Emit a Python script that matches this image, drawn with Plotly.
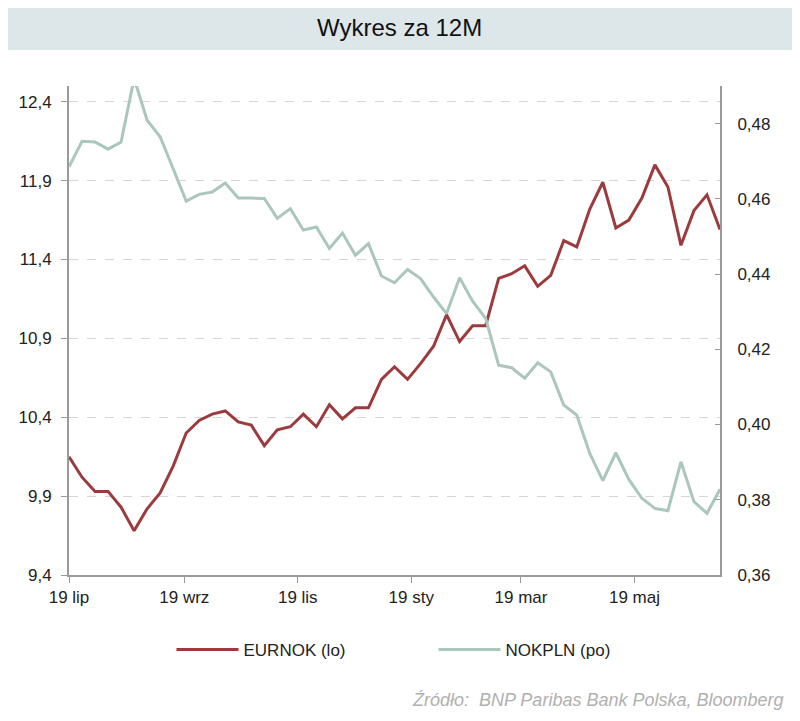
import pandas as pd
import plotly.graph_objects as go

dates = pd.date_range("2022-07-19", periods=51, freq="7D")

eurnok = [10.15, 10.02, 9.93, 9.93, 9.83, 9.68, 9.82, 9.92, 10.09, 10.30,
          10.38, 10.42, 10.44, 10.37, 10.35, 10.22, 10.32, 10.34, 10.42, 10.34,
          10.48, 10.39, 10.46, 10.46, 10.64, 10.72, 10.64, 10.74, 10.85, 11.05,
          10.88, 10.98, 10.98, 11.28, 11.31, 11.36, 11.23, 11.30, 11.52, 11.48,
          11.72, 11.89, 11.60, 11.65, 11.79, 12.00, 11.86, 11.49, 11.71, 11.81,
          11.59]

nokpln = [0.4685, 0.4753, 0.4751, 0.4732, 0.4751, 0.4920, 0.4809, 0.4765, 0.4680, 0.4594,
          0.4612, 0.4618, 0.4642, 0.4602, 0.4602, 0.4601, 0.4548, 0.4574, 0.4517, 0.4525,
          0.4468, 0.4509, 0.4450, 0.4481, 0.4395, 0.4377, 0.4412, 0.4388, 0.4339, 0.4295,
          0.4390, 0.4328, 0.4282, 0.4158, 0.4151, 0.4123, 0.4164, 0.4140, 0.4052, 0.4025,
          0.3923, 0.3851, 0.3925, 0.3854, 0.3804, 0.3777, 0.3771, 0.3901, 0.3795, 0.3764,
          0.3828]

tick_dates = ["2022-07-19", "2022-09-19", "2022-11-19", "2023-01-19", "2023-03-19", "2023-05-19"]
tick_labels = ["19 lip", "19 wrz", "19 lis", "19 sty", "19 mar", "19 maj"]
left_ticks = [9.4, 9.9, 10.4, 10.9, 11.4, 11.9, 12.4]
right_ticks = [0.36, 0.38, 0.40, 0.42, 0.44, 0.46, 0.48]

RED = "#9c3b3e"
GREEN = "#aac6bd"
FONT = "Liberation Sans"
TXT = "#222222"

fig = go.Figure()
fig.add_trace(go.Scatter(x=dates, y=eurnok, name="EURNOK (lo)", mode="lines",
                         line=dict(color=RED, width=3), yaxis="y"))
fig.add_trace(go.Scatter(x=dates, y=nokpln, name="NOKPLN (po)", mode="lines",
                         line=dict(color=GREEN, width=3), yaxis="y2"))

# page has an 8px body margin; work in page coordinates and shift
OFF = 8
W, H = 800 - OFF, 721 - OFF
L, T = 69 - OFF, 86 - OFF
R = W - (720 - OFF)
B = H - (575 - OFF)
pw, ph = W - L - R, H - T - B

def px(x):
    return (x - OFF - L) / pw

def py(y):
    return (H - B - (y - OFF)) / ph

fig.update_layout(
    width=W, height=H,
    margin=dict(l=L, r=R, t=T, b=B),
    paper_bgcolor="white", plot_bgcolor="white",
    separators=", ",
    font=dict(family=FONT, size=17, color=TXT),
    showlegend=True,
    legend=dict(orientation="h", x=px(178) - 0.01, xanchor="left", y=py(650), yanchor="middle",
                font=dict(size=17, color=TXT), itemwidth=62, entrywidth=185,
                traceorder="normal"),
    xaxis=dict(type="date", range=[dates[0], dates[-1]],
               tickvals=tick_dates, ticktext=tick_labels,
               showgrid=False, showline=True, linecolor="#9a9a9a", linewidth=2,
               ticks="outside", ticklen=6, tickcolor="#9a9a9a", zeroline=False,
               tickfont=dict(size=17, color=TXT)),
    yaxis=dict(range=[9.4, 12.5], tickvals=left_ticks, tickformat=".1f",
               showgrid=True, gridcolor="#d6d6d6", griddash="dash", gridwidth=1,
               showline=True, linecolor="#9a9a9a", linewidth=2,
               ticks="outside", ticklen=6, tickcolor="#9a9a9a", zeroline=False,
               ticklabelstandoff=6,
               tickfont=dict(size=17, color=TXT)),
    yaxis2=dict(range=[0.36, 0.49], tickvals=right_ticks, tickformat=".2f",
                overlaying="y", side="right", showgrid=False,
                showline=True, linecolor="#9a9a9a", linewidth=2,
                ticks="inside", ticklen=5, tickcolor="#9a9a9a", zeroline=False,
                ticklabelstandoff=12,
                tickfont=dict(size=17, color=TXT)),
)

fig.add_shape(type="rect", xref="paper", yref="paper",
              x0=px(OFF), x1=px(797), y0=py(50), y1=py(OFF),
              fillcolor="#dde6e8", line=dict(width=0), layer="below")
fig.add_annotation(text="Wykres za 12M", xref="paper", yref="paper",
                   x=px(400), y=py(27), showarrow=False,
                   xanchor="center", yanchor="middle",
                   font=dict(family=FONT, size=24, color="#111111"))
fig.add_annotation(text="<i>Źródło:  BNP Paribas Bank Polska, Bloomberg</i>",
                   xref="paper", yref="paper", x=px(786), y=py(700),
                   showarrow=False, xanchor="right", yanchor="middle",
                   font=dict(family=FONT, size=18, color="#b0b0b0"))

fig.write_html("out.html")
